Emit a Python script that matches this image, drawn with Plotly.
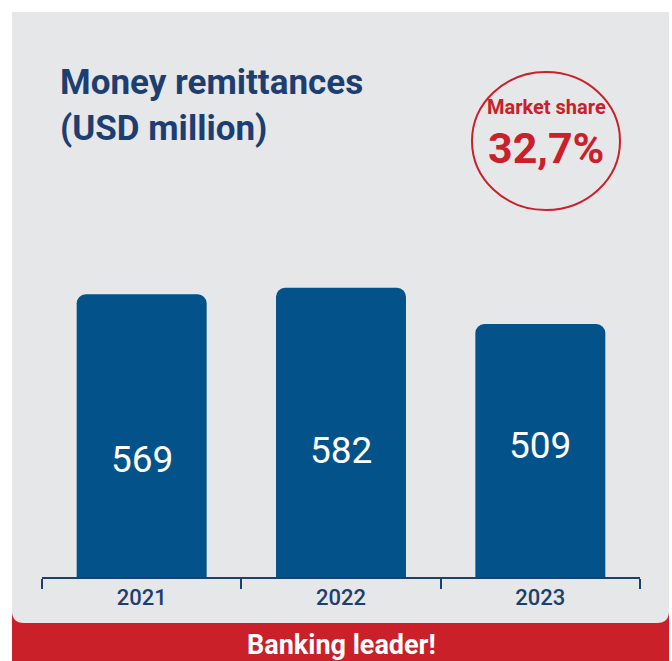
import plotly.graph_objects as go

# Money remittances, USD million
years = ["2021", "2022", "2023"]
remittances = [569, 582, 509]
market_share_label = "Market share"
market_share_value = "32,7%"
title_lines = ["Money remittances", "(USD million)"]
footer_text = "Banking leader!"

W, H = 672, 661
ML, MR, MT, MB = 42, 32, 254, 84

NAVY = "#1d3e70"
BAR = "#03528a"
RED = "#c9202a"
PANEL = "#e6e7e9"
FONT = "Roboto, Arial, sans-serif"

pw = W - ML - MR
ph = H - MT - MB


def px(x):
    return (x - ML) / pw


def py(y):
    return (H - MB - y) / ph


fig = go.Figure()
fig.add_trace(go.Bar(
    x=years, y=remittances, marker=dict(color=BAR, line=dict(width=0)),
    width=0.652, hoverinfo="skip",
))

# value labels inside the bars
label_shift = [-24, -18, 5]
for i, (v, s) in enumerate(zip(remittances, label_shift)):
    fig.add_annotation(xref="x", yref="y", x=i, y=v / 2, text=str(v),
                       showarrow=False, yshift=s,
                       font=dict(family=FONT, size=37, color="white"))

# background panel and footer band
r = 12
x0, x1, y0, y1 = 12, 669, 12, 623
panel_path = (
    f"M {px(x0)} {py(y0)} L {px(x1)} {py(y0)} L {px(x1)} {py(y1 - r)} "
    f"Q {px(x1)} {py(y1)} {px(x1 - r)} {py(y1)} L {px(x0 + r)} {py(y1)} "
    f"Q {px(x0)} {py(y1)} {px(x0)} {py(y1 - r)} Z"
)
fig.add_shape(type="rect", xref="paper", yref="paper", layer="below",
              x0=px(12), x1=px(669), y0=py(600), y1=py(661),
              fillcolor=RED, line=dict(width=0))
fig.add_shape(type="path", xref="paper", yref="paper", layer="below",
              path=panel_path, fillcolor=PANEL, line=dict(width=0))

# market share badge
cx, cy, rx, ry = 546, 141, 74, 69
fig.add_shape(type="circle", xref="paper", yref="paper",
              x0=px(cx - rx), x1=px(cx + rx), y0=py(cy + ry), y1=py(cy - ry),
              line=dict(color=RED, width=2), fillcolor="rgba(0,0,0,0)")
fig.add_annotation(xref="paper", yref="paper", x=px(cx), y=py(107),
                   text=f"<b>{market_share_label}</b>", showarrow=False,
                   xanchor="center", yanchor="middle",
                   font=dict(family=FONT, size=20, color=RED))
fig.add_annotation(xref="paper", yref="paper", x=px(cx), y=py(148),
                   text=f"<b>{market_share_value}</b>", showarrow=False,
                   xanchor="center", yanchor="middle",
                   font=dict(family=FONT, size=43, color=RED))

# title
fig.add_annotation(xref="paper", yref="paper", x=px(58), y=py(60),
                   text="<br>".join(f"<b>{t}</b>" for t in title_lines),
                   showarrow=False, xanchor="left", yanchor="top", align="left",
                   font=dict(family=FONT, size=35, color=NAVY))

# footer
fig.add_annotation(xref="paper", yref="paper", x=px(341), y=py(627),
                   text=f"<b>{footer_text}</b>", showarrow=False,
                   xanchor="center", yanchor="top",
                   font=dict(family=FONT, size=27, color="white"))

fig.update_layout(
    width=W, height=H, autosize=False,
    margin=dict(l=ML, r=MR, t=MT, b=MB, pad=0),
    paper_bgcolor="white", plot_bgcolor="rgba(0,0,0,0)",
    showlegend=False, barcornerradius=9,
    xaxis=dict(type="category", range=[-0.5, 2.5], showline=True,
               linecolor=NAVY, linewidth=1.5, ticks="outside",
               tickson="boundaries", ticklen=10, tickwidth=1.5,
               tickcolor=NAVY, showgrid=False, zeroline=False,
               tickfont=dict(family=FONT, size=22, color=NAVY, weight=500)),
    yaxis=dict(range=[0, 650], visible=False, showgrid=False, zeroline=False),
)

fig.write_html("out.html")
